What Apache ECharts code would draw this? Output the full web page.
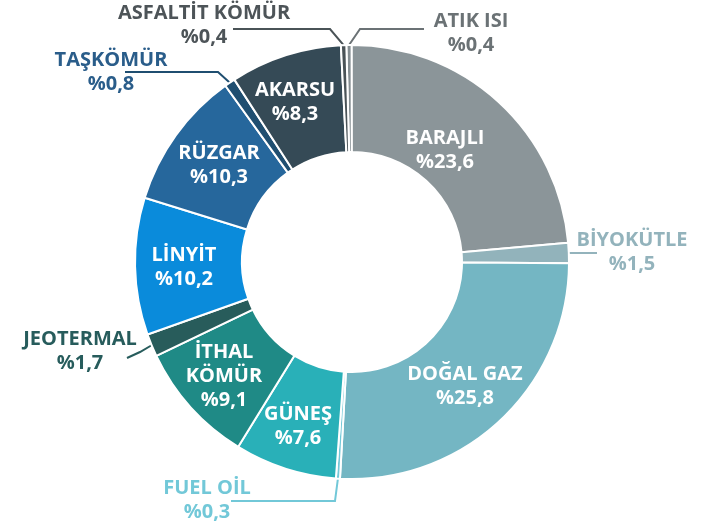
<!DOCTYPE html>
<html lang="tr">
<head>
<meta charset="UTF-8">
<title>Kurulu güç dağılımı</title>
<script src="https://cdn.jsdelivr.net/npm/echarts@6/dist/echarts.min.js"></script>
<style>
  html, body { margin: 0; padding: 0; background: #fff; }
  #main { width: 706px; height: 523px; }
</style>
</head>
<body>
<div id="main"></div>
<script type="text/javascript">
// data, clockwise from the top
var categories = ['ATIK ISI', 'BARAJLI', 'BİYOKÜTLE', 'DOĞAL GAZ', 'FUEL OİL', 'GÜNEŞ',
    'İTHAL KÖMÜR', 'JEOTERMAL', 'LİNYİT', 'RÜZGAR', 'TAŞKÖMÜR', 'AKARSU', 'ASFALTİT KÖMÜR'];
var shares = [0.4, 23.6, 1.5, 25.8, 0.3, 7.6, 9.1, 1.7, 10.2, 10.3, 0.8, 8.3, 0.4];

var sliceColors = ['#858e92', '#8b9599', '#92b3bb', '#74b6c3', '#74c8d8', '#29b0b8',
    '#1f8a86', '#285c5b', '#0a8bdb', '#26679c', '#1f4e70', '#354a56', '#4a5357'];

// small slices get their label outside, with a leader line
var outsideColors = {
    'ATIK ISI': '#6b7275',
    'BİYOKÜTLE': '#93b3bc',
    'FUEL OİL': '#72c8d8',
    'JEOTERMAL': '#275c5c',
    'TAŞKÖMÜR': '#2a5d8a',
    'ASFALTİT KÖMÜR': '#4d5458'
};
var lineColors = {
    'ATIK ISI': '#6b7275',
    'BİYOKÜTLE': '#93b3bc',
    'FUEL OİL': '#72c8d8',
    'JEOTERMAL': '#275c5c',
    'TAŞKÖMÜR': '#1f4e70',
    'ASFALTİT KÖMÜR': '#4a5357'
};

// label centres
var labelAt = {
    'ATIK ISI': [471, 33], 'BARAJLI': [445, 150], 'BİYOKÜTLE': [632, 252],
    'DOĞAL GAZ': [465, 386], 'FUEL OİL': [207, 500], 'GÜNEŞ': [298, 426],
    'İTHAL KÖMÜR': [224, 376], 'JEOTERMAL': [80, 351], 'LİNYİT': [184, 267],
    'RÜZGAR': [219, 165], 'TAŞKÖMÜR': [111, 72], 'AKARSU': [295, 102],
    'ASFALTİT KÖMÜR': [204, 25]
};
// leader line bends (after the point on the ring)
var leaderBends = {
    'ATIK ISI': [[360, 29], [424, 29]],
    'ASFALTİT KÖMÜR': [[330, 29], [233, 29]],
    'TAŞKÖMÜR': [[218, 72], [125, 72]],
    'BİYOKÜTLE': [[583, 253], [597, 253]],
    'JEOTERMAL': [[140, 352], [127, 358]],
    'FUEL OİL': [[335, 501], [231, 501]]
};

var cx = 352, cy = 262, rIn = 110, rOut = 217, startAngle = 91.5;
var total = shares.reduce(function (a, b) { return a + b; }, 0);

function edgePoint(i) {
    var before = 0;
    for (var k = 0; k < i; k++) before += shares[k];
    var deg = (before + shares[i] / 2) / total * 360 - (startAngle - 90);
    var rad = deg * Math.PI / 180;
    return [cx + rOut * Math.sin(rad), cy - rOut * Math.cos(rad)];
}

function pct(v) {
    return '%' + v.toFixed(1).replace('.', ',');
}

var fontFamily = '"Open Sans", "Noto Sans", sans-serif';

var pieData = categories.map(function (name, i) {
    var item = {
        name: name,
        value: shares[i],
        itemStyle: { color: sliceColors[i] }
    };
    if (outsideColors[name]) {
        item.label = { position: 'outside', color: outsideColors[name] };
        item.labelLine = { show: true, lineStyle: { color: lineColors[name], width: 2 } };
    }
    return item;
});

var myChart = echarts.init(document.getElementById('main'), null, { renderer: 'canvas' });

var option = {
    animation: false,
    series: [{
        type: 'pie',
        center: [cx, cy],
        radius: [rIn, rOut],
        startAngle: startAngle,
        clockwise: true,
        avoidLabelOverlap: false,
        itemStyle: { borderColor: '#fff', borderWidth: 2 },
        label: {
            show: true,
            position: 'inside',
            color: '#fff',
            fontFamily: fontFamily,
            fontWeight: 'bold',
            fontSize: 20,
            lineHeight: 24,
            align: 'center',
            formatter: function (p) {
                var name = p.name === 'İTHAL KÖMÜR' ? 'İTHAL\nKÖMÜR' : p.name;
                return name + '\n' + pct(p.value);
            }
        },
        labelLine: { show: false },
        emphasis: { disabled: true },
        labelLayout: function (params) {
            var name = categories[params.dataIndex];
            var pos = labelAt[name];
            var out = { x: pos[0], y: pos[1], align: 'center', verticalAlign: 'middle' };
            if (leaderBends[name]) {
                out.labelLinePoints = [edgePoint(params.dataIndex)].concat(leaderBends[name]);
            }
            return out;
        },
        data: pieData
    }]
};

myChart.setOption(option);
</script>
</body>
</html>
